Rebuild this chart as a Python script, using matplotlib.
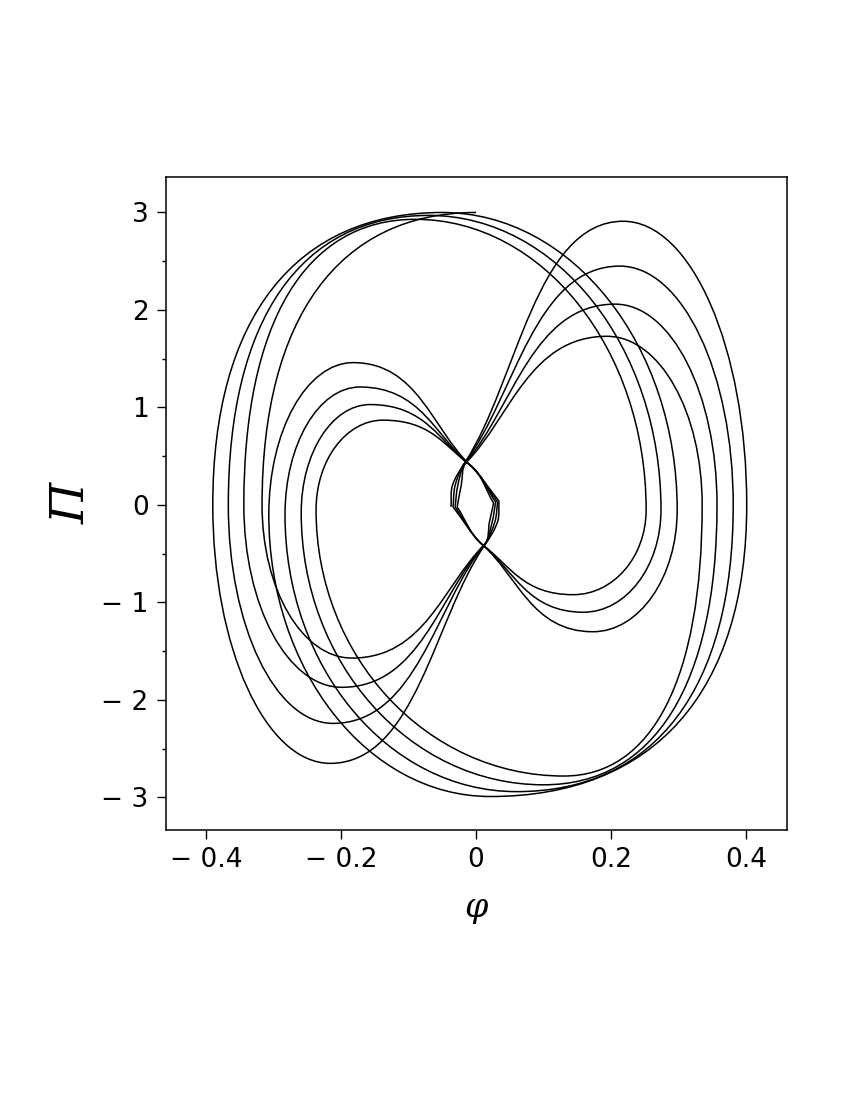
import numpy as np
import matplotlib
matplotlib.use("Agg")
import matplotlib.pyplot as plt
from matplotlib.path import Path
from matplotlib.patches import PathPatch

# phase trajectory (phi, Pi).
# kind: h = top/bottom of a loop (flat tangent), v = left/right extreme, c = point on a slope;
# capitals mark the fuller (squarer) quarters of the big loops
# the trajectory is split where it kinks next to the origin
start_phi = [0.0, -0.317, -0.184, 0.012, 0.020, 0.026]
start_pi = [3.0, 0.0, -1.57, -0.41, -0.17, 0.02]
start_kind = "HVhccc"

lobe1_phi = [0.026, -0.009, -0.138, -0.237, 0.130, 0.335, 0.194, -0.014, -0.022, -0.028]
lobe1_pi = [0.02, 0.41, 0.87, -0.05, -2.78, 0.0, 1.73, 0.44, 0.20, -0.02]
swing1_phi = [-0.028, 0.010, 0.144, 0.252, -0.090, -0.344, -0.199, 0.012, 0.024, 0.029]
swing1_pi = [-0.02, -0.41, -0.92, -0.05, 2.93, 0.0, -1.87, -0.41, -0.17, 0.03]

lobe2_phi = [0.029, -0.009, -0.157, -0.259, 0.100, 0.357, 0.206, -0.015, -0.027, -0.031]
lobe2_pi = [0.03, 0.41, 1.03, -0.08, -2.87, 0.0, 2.06, 0.44, 0.20, -0.02]
swing2_phi = [-0.031, 0.010, 0.159, 0.274, -0.070, -0.367, -0.212, 0.012, 0.028, 0.032]
swing2_pi = [-0.02, -0.41, -1.10, -0.05, 2.97, 0.0, -2.24, -0.41, -0.17, 0.03]

lobe3_phi = [0.032, -0.009, -0.172, -0.283, 0.060, 0.381, 0.213, -0.016, -0.031, -0.034]
lobe3_pi = [0.03, 0.41, 1.21, -0.10, -2.94, 0.0, 2.45, 0.44, 0.20, -0.02]
swing3_phi = [-0.034, 0.010, 0.173, 0.298, -0.050, -0.390, -0.216, 0.013, 0.032, 0.034]
swing3_pi = [-0.02, -0.41, -1.30, -0.05, 3.0, 0.0, -2.65, -0.41, -0.17, 0.04]

lobe4_phi = [0.034, -0.009, -0.182, -0.307, 0.021, 0.401, 0.218, -0.016, -0.035, -0.037]
lobe4_pi = [0.04, 0.41, 1.46, -0.10, -2.99, 0.0, 2.91, 0.44, 0.20, -0.02]

loop_kind = "cchvHVhccc"

pieces = [(start_phi, start_pi, start_kind),
          (lobe1_phi, lobe1_pi, loop_kind), (swing1_phi, swing1_pi, loop_kind),
          (lobe2_phi, lobe2_pi, loop_kind), (swing2_phi, swing2_pi, loop_kind),
          (lobe3_phi, lobe3_pi, loop_kind), (swing3_phi, swing3_pi, loop_kind),
          (lobe4_phi, lobe4_pi, loop_kind)]

x_ticks = [-0.4, -0.2, 0, 0.2, 0.4]
x_labels = ['\u2212 0.4', '\u2212 0.2', '0', '0.2', '0.4']
y_ticks = [-3, -2, -1, 0, 1, 2, 3]
y_labels = ['\u2212 3', '\u2212 2', '\u2212 1', '0', '1', '2', '3']


def smooth_curve(ax, xs, ys, kinds, normal=0.5523, full=0.64):
    # cubic Bezier path through the key points; flat / upright tangents at the extremes
    P = ax.transData.transform(np.column_stack([xs, ys]))
    n = len(P)
    T = np.zeros_like(P)
    for i, kd in enumerate(kinds):
        if kd in 'hH':
            T[i] = [1.0, 0.0]
        elif kd in 'vV':
            T[i] = [0.0, 1.0]
        else:
            d = P[min(i + 1, n - 1)] - P[max(i - 1, 0)]
            T[i] = d / np.linalg.norm(d)

    def handle(j, vec, k):
        t = T[j]
        s = 1.0 if np.dot(t, vec) >= 0 else -1.0
        if kinds[j] in 'hH':
            L = k * abs(vec[0])
        elif kinds[j] in 'vV':
            L = k * abs(vec[1])
        else:
            L = np.linalg.norm(vec) / 3.0
        return P[j] + s * t * L

    verts = [P[0]]
    codes = [Path.MOVETO]
    for i in range(n - 1):
        d = P[i + 1] - P[i]
        k = full if (kinds[i].isupper() and kinds[i + 1].isupper()) else normal
        verts += [handle(i, d, k), handle(i + 1, -d, k), P[i + 1]]
        codes += [Path.CURVE4] * 3
    verts = ax.transData.inverted().transform(np.array(verts))
    ax.add_patch(PathPatch(Path(verts, codes), fill=False, lw=1.1, ec='black',
                           joinstyle='round'))


fig = plt.figure(figsize=(8.5, 11), dpi=100)
ax = fig.add_axes([0.1953, 0.2455, 0.7306, 0.5936])
ax.set_xlim(-0.4593, 0.4607)
ax.set_ylim(-3.333, 3.364)

for xs, ys, kinds in pieces:
    smooth_curve(ax, xs, ys, kinds)

ax.set_xticks(x_ticks)
ax.set_xticklabels(x_labels)
ax.set_yticks(y_ticks)
ax.set_yticklabels(y_labels)
ax.set_yticks([-2.5, -1.5, -0.5, 0.5, 1.5, 2.5], minor=True)
ax.tick_params(which='major', direction='out', length=6.5, width=1.0, labelsize=19, pad=6)
ax.tick_params(which='minor', direction='out', length=3, width=1.0)
for s in ax.spines.values():
    s.set_linewidth(1.1)

ax.set_xlabel('\u03c6', family='DejaVu Serif', style='italic', fontsize=24)
ax.xaxis.set_label_coords(0.499, -0.119)
ax.xaxis.label.set_verticalalignment('center')
ax.set_ylabel('\u03a0', family='DejaVu Serif', style='italic', fontsize=34)
ax.yaxis.set_label_coords(-0.151, 0.50)
ax.yaxis.label.set_verticalalignment('center')

fig.savefig('out.png', dpi=100)
